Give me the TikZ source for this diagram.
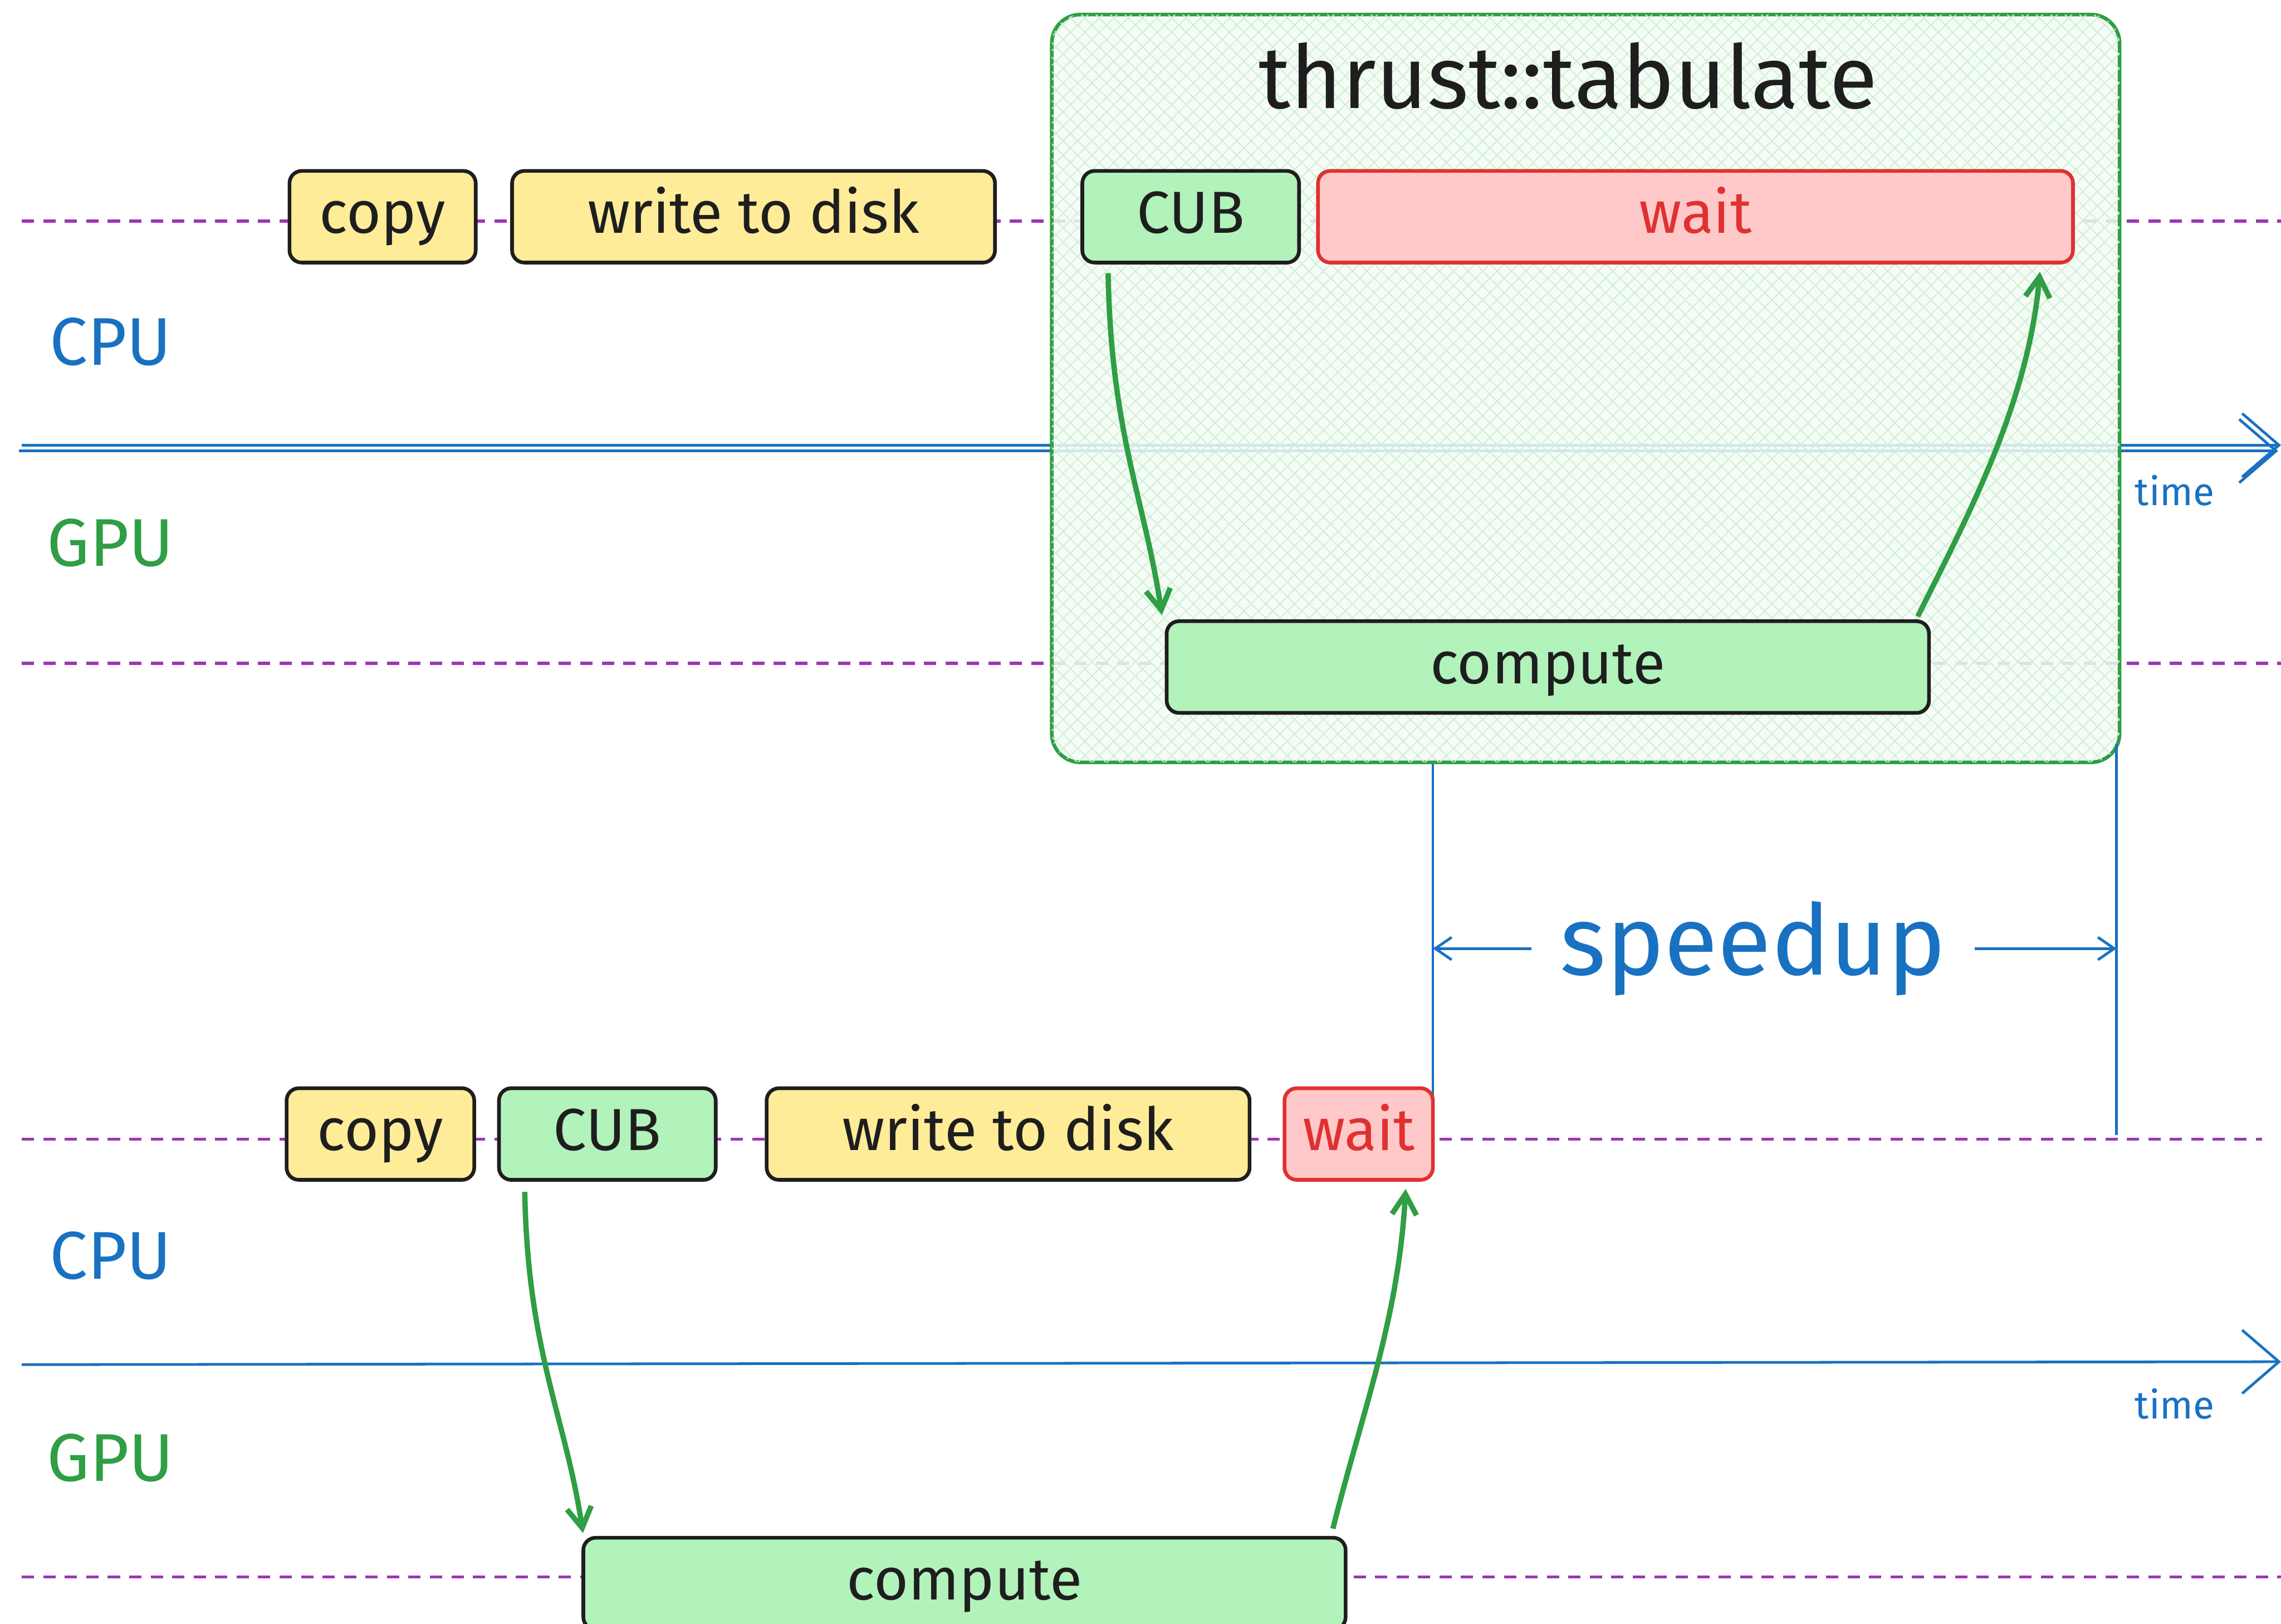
\documentclass[tikz,border=0pt]{standalone}
\usepackage{fontspec}
\setmainfont{Fira Sans}
\usetikzlibrary{arrows.meta,calc,patterns.meta}
\definecolor{ylwfill}{HTML}{FFEC99}
\definecolor{grnfill}{HTML}{B2F2BB}
\definecolor{redfill}{HTML}{FFC9C9}
\definecolor{redline}{HTML}{E03131}
\definecolor{grnline}{HTML}{2F9E44}
\definecolor{blueline}{HTML}{1971C2}
\definecolor{purp}{HTML}{9C36B5}
\definecolor{ink}{HTML}{1E1E1E}
\definecolor{hatchbg}{HTML}{F3FBF4}
\definecolor{hatchln}{HTML}{CDEFD3}
\tikzset{
  box/.style={draw=ink, line width=1.8pt, rounded corners=6pt, inner sep=0pt,
    minimum height=63*0.025cm, text height=21pt, text depth=5pt,
    font=\fontsize{29}{34}\selectfont, text=ink},
  ybox/.style={box, fill=ylwfill},
  gbox/.style={box, fill=grnfill},
  rbox/.style={box, fill=redfill, draw=redline, text=redline},
  lane/.style={purp, line width=1.5pt, dash pattern=on 6pt off 4.5pt},
  axis/.style={blueline, line width=1.3pt},
  axistip/.style={axis, -{Straight Barb[length=18pt,width=31pt,line width=1.3pt]}},
  flow/.style={grnline, line width=2.6pt, -{Straight Barb[length=10pt,width=12pt,line width=2.6pt]}},
  span/.style={blueline, line width=1.3pt, -{Straight Barb[length=8pt,width=11pt]}},
  cpulbl/.style={text=blueline, font=\fontsize{33}{38}\selectfont},
  gpulbl/.style={text=grnline, font=\fontsize{33}{38}\selectfont},
  timelbl/.style={text=blueline, font=\fontsize{19}{22}\selectfont},
  frame/.style={draw=grnline, line width=1.8pt, rounded corners=14pt,
    fill=hatchbg, fill opacity=0.85,
    postaction={pattern={Lines[angle=45,distance=5pt,line width=0.5pt]}, pattern color=hatchln},
    postaction={pattern={Lines[angle=-45,distance=5pt,line width=0.5pt]}, pattern color=hatchln}}
}
\begin{document}
\begin{tikzpicture}[x=0.025cm, y=-0.025cm]
\useasboundingbox (0,0) rectangle (1568,1116);

% lanes (background guides)
\draw[lane] (15,152) -- (1568,152);
\draw[lane] (15,456) -- (1568,456);
\draw[lane] (15,783) -- (1555,783);
\draw[lane] (15,1084) -- (1568,1084);

% time axes
\coordinate (axAs) at (15,306);
\coordinate (axAe) at (1568,306);
\coordinate (axBs) at (13,310);
\coordinate (axBe) at (1566,310);
\draw[axistip] (axAs) -- (axAe);
\draw[axistip] (axBs) -- (axBe);
\coordinate (axCs) at (15,938);
\coordinate (axCe) at (1568,936);
\draw[axistip] (axCs) -- (axCe);

% container
\node[frame, minimum width=734*0.025cm, minimum height=514*0.025cm] (tab) at (1090,267) {};
\node[text=ink, font=\fontsize{43}{50}\selectfont] (title) at (1078,52) {thrust::tabulate};

% labels
\node[cpulbl] (cpu1) at (76,235) {CPU};
\node[gpulbl] (gpu1) at (76,373) {GPU};
\node[cpulbl] (cpu2) at (76,863) {CPU};
\node[gpulbl] (gpu2) at (76,1002) {GPU};
\node[timelbl] (time1) at (1495,337) {time};
\node[timelbl] (time2) at (1495,965) {time};

% speedup measurement lines
\coordinate (rend) at (1455,780);
\coordinate (lend) at (985,780);
\draw[axis] (lend) -- (lend |- tab.south);
\draw[axis] (rend) -- ($(rend |- tab.south)+(0,-14)$);
\node[text=blueline, font=\fontsize{48}{56}\selectfont, inner sep=14pt] (sp) at (1205,652) {speedup};
\draw[span] (sp.west) -- (sp.west -| lend);
\draw[span] (sp.east) -- (sp.east -| rend);

% top scenario
\node[ybox, minimum width=128*0.025cm] (copy1) at (263,149) {copy};
\node[ybox, minimum width=332*0.025cm] (write1) at (518,149) {write to disk};
\node[gbox, minimum width=149*0.025cm] (cub1) at (818.5,149) {CUB};
\node[rbox, minimum width=519*0.025cm] (wait1) at (1165.5,149) {wait};
\node[gbox, minimum width=524*0.025cm] (comp1) at (1064,458.5) {compute};

% bottom scenario
\node[ybox, minimum width=129*0.025cm] (copy2) at (261.5,779.5) {copy};
\node[gbox, minimum width=149*0.025cm] (cub2) at (417.5,779.5) {CUB};
\node[ybox, minimum width=332*0.025cm] (write2) at (693,779.5) {write to disk};
\node[rbox, minimum width=102*0.025cm] (wait2) at (934,779.5) {wait};
\node[gbox, minimum width=524*0.025cm] (comp2) at (663,1088.5) {compute};

% flows
\draw[flow] ($(cub1.south west)+(19,6)$) .. controls +(2,110) and +(-12,-80) .. ($(comp1.north west)+(-2,-3)$);
\draw[flow] ($(comp1.north east)+(-9,-2)$) .. controls +(35,-70) and +(-8,90) .. ($(wait1.south east)+(-24,5)$);
\draw[flow] ($(cub2.south west)+(19,7)$) .. controls +(2,110) and +(-12,-80) .. ($(comp2.north west)+(1,-2)$);
\draw[flow] ($(comp2.north east)+(-10,-5)$) .. controls +(20,-80) and +(-5,90) .. ($(wait2.south east)+(-20,5)$);
\end{tikzpicture}
\end{document}
